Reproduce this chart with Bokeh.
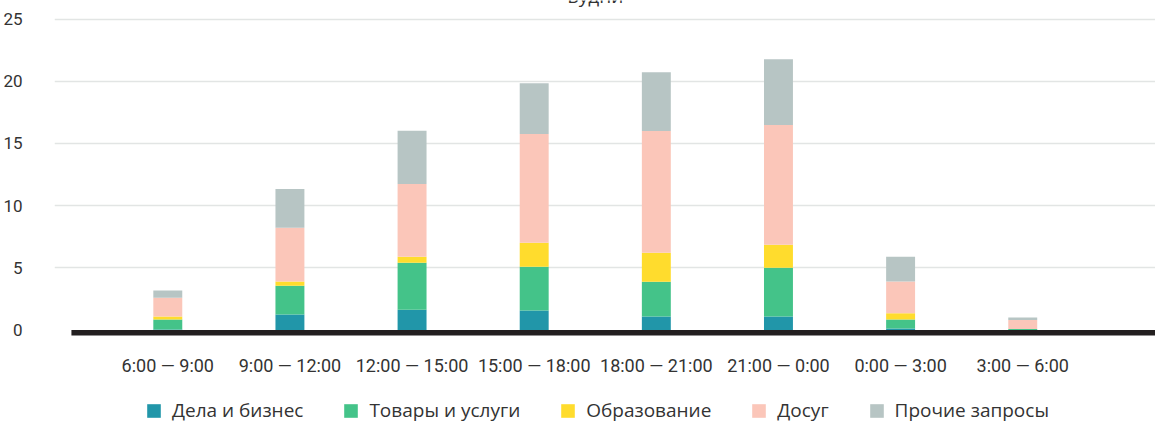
from bokeh.plotting import figure
from bokeh.layouts import column
from bokeh.models import (Range1d, FixedTicker, ColumnDataSource, Legend,
                          LegendItem, BoxAnnotation)
from bokeh.core.properties import value
from bokeh.embed import file_html
from bokeh.resources import INLINE

title_text = "Будни"
periods = ["6:00 — 9:00", "9:00 — 12:00", "12:00 — 15:00", "15:00 — 18:00",
           "18:00 — 21:00", "21:00 — 0:00", "0:00 — 3:00", "3:00 — 6:00"]
series_names = ["Дела и бизнес", "Товары и услуги", "Образование", "Досуг",
                "Прочие запросы"]
business = [0.05, 1.24, 1.64, 1.56, 1.08, 1.08, 0.13, 0.0]
goods = [0.79, 2.33, 3.77, 3.53, 2.81, 3.93, 0.72, 0.08]
education = [0.24, 0.34, 0.48, 1.93, 2.32, 1.85, 0.49, 0.0]
leisure = [1.52, 4.31, 5.86, 8.74, 9.79, 9.62, 2.56, 0.72]
other = [0.57, 3.13, 4.27, 4.09, 4.73, 5.29, 1.99, 0.2]
y_ticks = [0, 5, 10, 15, 20, 25]

colors = ["#2196a9", "#44c389", "#ffdc2d", "#fbc6b9", "#b7c5c4"]
keys = ["business", "goods", "education", "leisure", "other"]

xs = list(range(len(periods)))
src = ColumnDataSource(dict(x=xs, business=business, goods=goods,
                            education=education, leisure=leisure, other=other))

AXIS_FONT = "Roboto"
LEG_FONT = "Open Sans"
TXT = "#333333"
Y_END = 26.5
X_START, X_END = -0.9276, 8.087

p = figure(width=1155, height=378, output_backend="svg", toolbar_location=None,
           x_range=Range1d(X_START, X_END), y_range=Range1d(-0.521, Y_END),
           min_border_left=52, min_border_right=0, min_border_top=0,
           min_border_bottom=41, background_fill_color="white",
           border_fill_color="white")
p.outline_line_color = None

renderers = p.vbar_stack(keys, x="x", width=0.237, color=colors, source=src,
                         line_color=None)

# dark base line
p.add_layout(BoxAnnotation(left=-0.789, top=0, bottom=-0.44,
                           fill_color="#231f20", fill_alpha=1,
                           line_alpha=0))

# title (mostly scrolled off the top in the reference)
p.text(x=[(len(periods) - 1) / 2], y=[Y_END - 0.06], text=[title_text],
       y_offset=-5.5, text_align="center", text_baseline="alphabetic",
       text_font=value(LEG_FONT), text_font_size="19px", text_color=TXT)

# axes
p.xaxis.ticker = FixedTicker(ticks=xs)
p.xaxis.major_label_overrides = {i: lab for i, lab in enumerate(periods)}
p.xaxis.axis_line_color = None
p.xaxis.major_tick_line_color = None
p.xaxis.minor_tick_line_color = None
p.xaxis.major_tick_out = 0
p.xaxis.major_label_standoff = 18
p.xaxis.major_label_text_font = AXIS_FONT
p.xaxis.major_label_text_font_size = "18px"
p.xaxis.major_label_text_color = TXT

p.yaxis.ticker = FixedTicker(ticks=y_ticks)
p.yaxis.axis_line_color = None
p.yaxis.major_tick_line_color = None
p.yaxis.minor_tick_line_color = None
p.yaxis.major_tick_out = 0
p.yaxis.major_label_standoff = 32
p.yaxis.major_label_text_font = AXIS_FONT
p.yaxis.major_label_text_font_size = "17px"
p.yaxis.major_label_text_color = TXT

p.xgrid.grid_line_color = None
p.ygrid.ticker = FixedTicker(ticks=[t for t in y_ticks if t > 0])
p.ygrid.grid_line_color = "#e2e5e4"
p.ygrid.grid_line_width = 1.5

# legend strip below the chart; its key bars lie far below the visible
# y-range so that only the legend entries show
lg = figure(width=1155, height=47, output_backend="svg", toolbar_location=None,
            x_range=Range1d(X_START, X_END), y_range=Range1d(30, 31),
            x_axis_type=None, y_axis_type=None,
            min_border_left=0, min_border_right=0, min_border_top=0,
            min_border_bottom=0, background_fill_color="white",
            border_fill_color="white")
lg.outline_line_color = None
lg.xgrid.grid_line_color = None
lg.ygrid.grid_line_color = None
proxies = lg.vbar_stack(keys, x="x", width=0.237, color=colors, source=src,
                        line_color=None)

items = [LegendItem(label=n, renderers=[r]) for n, r in zip(series_names, proxies)]
legend = Legend(items=items, orientation="horizontal", location=(91, 2),
                glyph_width=17, glyph_height=17, label_height=17,
                label_standoff=10, spacing=39, padding=0, margin=0,
                border_line_color=None, background_fill_alpha=0,
                label_text_font=LEG_FONT, label_text_font_size="19px",
                label_text_color=TXT)
lg.add_layout(legend, "center")

layout = column(p, lg, spacing=0)
open("out.html", "w").write(file_html(layout, INLINE))
